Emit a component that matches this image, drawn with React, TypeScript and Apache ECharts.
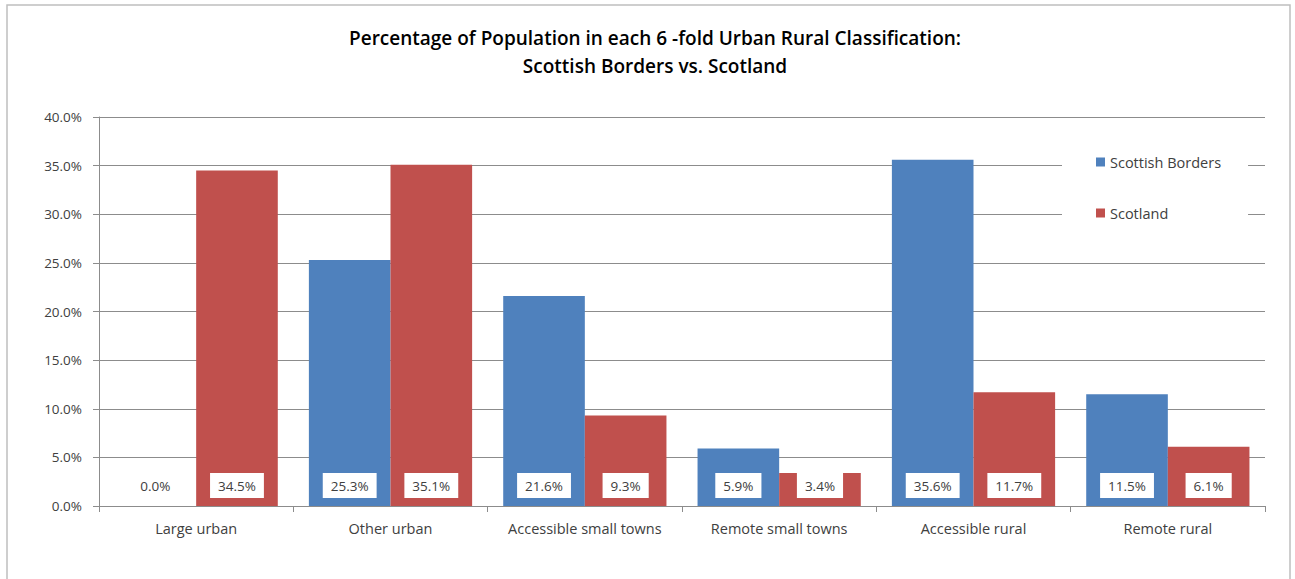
import React, { useEffect, useRef } from "react";
import * as echarts from "echarts";

const categories = [
  "Large urban",
  "Other urban",
  "Accessible small towns",
  "Remote small towns",
  "Accessible rural",
  "Remote rural",
];
const bordersValues = [0.0, 25.3, 21.6, 5.9, 35.6, 11.5];
const scotlandValues = [34.5, 35.1, 9.3, 3.4, 11.7, 6.1];
const seriesNames = ["Scottish Borders", "Scotland"];
const titleLines = [
  "Percentage of Population in each 6 -fold Urban Rural Classification:",
  "Scottish Borders vs. Scotland",
];

const FONT = "'Open Sans', Lato, sans-serif";
const TXT = "#404040";
const GRID = "#8c8c8c";

export default function App() {
  const ref = useRef<HTMLDivElement>(null);
  useEffect(() => {
    if (!ref.current) return;
    const chart = echarts.init(ref.current, undefined, { renderer: "svg" });
    const label = {
      show: true,
      position: "insideBottom",
      distance: 8,
      formatter: (p: any) => `${Number(p.value).toFixed(1)}%`,
      backgroundColor: "#ffffff",
      padding: [6, 8, 5, 8],
      color: TXT,
      fontSize: 13.5,
      fontFamily: FONT,
    };
    const titleStyle = { fontSize: 19, fontWeight: 600, color: "#000", fontFamily: FONT };
    chart.setOption({
      animation: false,
      backgroundColor: "#ffffff",
      textStyle: { fontFamily: FONT },
      title: [
        { text: titleLines[0], left: 650, top: 23, textAlign: "center", textStyle: titleStyle },
        { text: titleLines[1], left: 650, top: 51, textAlign: "center", textStyle: titleStyle },
      ],
      graphic: [
        {
          type: "rect",
          shape: { x: 7, y: 5, width: 1283, height: 620 },
          style: { fill: "none", stroke: "#bfbfbf", lineWidth: 1.5 },
          silent: true,
        },
      ],
      legend: {
        orient: "vertical",
        left: 1062,
        top: 128,
        data: seriesNames,
        icon: "rect",
        itemWidth: 9,
        itemHeight: 9,
        itemGap: 33,
        backgroundColor: "#ffffff",
        padding: [25, 27, 26, 34],
        textStyle: { fontSize: 14.5, color: TXT, fontFamily: FONT, lineHeight: 18 },
        z: 10,
      },
      grid: { left: 99, right: 30, top: 117, bottom: 73 },
      xAxis: {
        type: "category",
        data: categories,
        axisLine: { lineStyle: { color: GRID, width: 1 } },
        axisTick: { show: true, length: 6, lineStyle: { color: GRID } },
        axisLabel: { interval: 0, color: TXT, fontSize: 14.5, margin: 15, fontFamily: FONT },
      },
      yAxis: {
        type: "value",
        min: 0,
        max: 40,
        interval: 5,
        axisLine: { show: true, lineStyle: { color: GRID, width: 1 } },
        axisTick: { show: true, length: 6, lineStyle: { color: GRID } },
        splitLine: { show: true, lineStyle: { color: GRID, width: 1 } },
        axisLabel: {
          color: TXT,
          fontSize: 13.5,
          margin: 17,
          fontFamily: FONT,
          formatter: (v: number) => `${v.toFixed(1)}%`,
        },
      },
      series: [
        {
          name: seriesNames[0],
          type: "bar",
          data: bordersValues,
          itemStyle: { color: "#4F81BD" },
          barGap: "0%",
          barCategoryGap: "16%",
          label,
        },
        {
          name: seriesNames[1],
          type: "bar",
          data: scotlandValues,
          itemStyle: { color: "#C0504D" },
          barGap: "0%",
          barCategoryGap: "16%",
          label,
        },
      ],
    });
    return () => chart.dispose();
  }, []);
  return (
    <div
      ref={ref}
      style={{ position: "absolute", left: 0, top: 0, width: 1295, height: 579 }}
    />
  );
}
